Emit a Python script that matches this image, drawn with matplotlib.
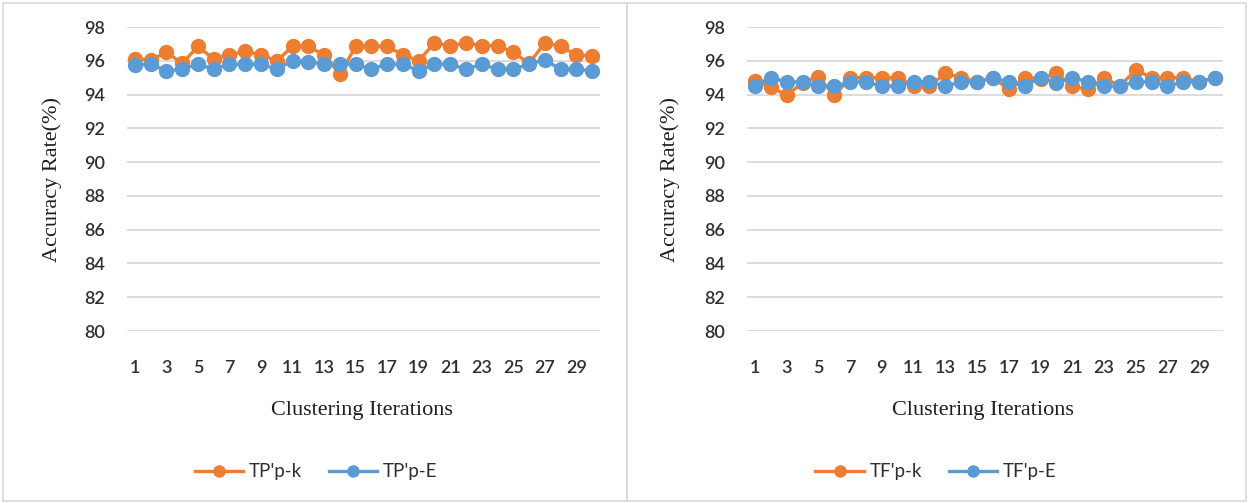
import matplotlib
matplotlib.use("Agg")
import matplotlib.pyplot as plt
from matplotlib.patches import Rectangle

# Accuracy per clustering iteration
iterations = list(range(1, 31))

tp_k = [96.1, 96.05, 96.5, 95.85, 96.85, 96.1, 96.35, 96.55, 96.35, 96.0,
        96.85, 96.85, 96.35, 95.2, 96.85, 96.85, 96.85, 96.35, 96.0, 97.05,
        96.9, 97.05, 96.9, 96.9, 96.5, 95.85, 97.05, 96.85, 96.35, 96.3]
tp_e = [95.75, 95.8, 95.4, 95.5, 95.8, 95.5, 95.8, 95.8, 95.8, 95.5,
        96.0, 95.95, 95.8, 95.8, 95.8, 95.5, 95.8, 95.8, 95.4, 95.8,
        95.8, 95.5, 95.8, 95.5, 95.5, 95.8, 96.05, 95.5, 95.5, 95.4]

tf_k = [94.8, 94.45, 93.95, 94.7, 95.05, 93.95, 95.0, 95.0, 95.0, 95.0,
        94.5, 94.5, 95.25, 95.0, 94.75, 95.0, 94.3, 95.0, 94.95, 95.25,
        94.5, 94.3, 95.0, 94.5, 95.45, 95.0, 95.0, 95.0, 94.75, 95.0]
tf_e = [94.5, 95.0, 94.75, 94.75, 94.5, 94.5, 94.75, 94.75, 94.5, 94.5,
        94.75, 94.75, 94.5, 94.75, 94.75, 95.0, 94.75, 94.5, 95.0, 94.7,
        95.0, 94.75, 94.5, 94.5, 94.75, 94.75, 94.5, 94.75, 94.75, 95.0]

y_ticks = list(range(80, 100, 2))
x_ticks = list(range(1, 30, 2))

panels = [
    {"k": tp_k, "e": tp_e, "labels": ["TP'p-k", "TP'p-E"]},
    {"k": tf_k, "e": tf_e, "labels": ["TF'p-k", "TF'p-E"]},
]

ORANGE = "#ED7D31"
BLUE = "#5B9BD5"
GRID = "#D9D9D9"
TEXT = "#2E2E2E"

W, H = 1248, 503
fig = plt.figure(figsize=(W / 100, H / 100), dpi=100)
fig.patch.set_facecolor("white")


def fx(px):
    return px / W


def fy(py):
    return 1 - py / H


# panel frames
for x0, x1 in [(3, 627), (627, 1246)]:
    fig.add_artist(Rectangle((fx(x0), fy(501)), fx(x1 - x0), 498 / H,
                             transform=fig.transFigure, fill=False,
                             edgecolor=GRID, linewidth=1.2))

axes_px = [(127, 600), (747, 1223)]
ylabel_x = [52, 670]
legend_cx = [316, 936]

tick_font = {"family": "Lato", "size": 13, "color": TEXT, "weight": "semibold"}
title_font = {"family": "Liberation Serif", "size": 16, "color": "#1F1F1F"}

for p, (x0, x1), ylx, lcx in zip(panels, axes_px, ylabel_x, legend_cx):
    ax = fig.add_axes([fx(x0), fy(331), fx(x1 - x0), (331 - 27) / H])
    ax.plot(iterations, p["k"], color=ORANGE, lw=2.4, marker="o", ms=10,
            label=p["labels"][0], zorder=3, clip_on=False)
    ax.plot(iterations, p["e"], color=BLUE, lw=2.4, marker="o", ms=10,
            label=p["labels"][1], zorder=4, clip_on=False)
    ax.set_xlim(0.5, 30.5)
    ax.set_ylim(80, 98)
    ax.set_yticks(y_ticks)
    ax.set_xticks(x_ticks)
    ax.set_yticklabels([str(v) for v in y_ticks], fontdict=tick_font)
    ax.set_xticklabels([str(v) for v in x_ticks], fontdict=tick_font)
    ax.tick_params(length=0)
    ax.tick_params(axis="x", pad=21)
    ax.tick_params(axis="y", pad=16)
    ax.grid(axis="y", color=GRID, lw=1.3)
    ax.set_axisbelow(True)
    for s in ax.spines.values():
        s.set_visible(False)

    fig.text(fx(ylx), fy(180), "Accuracy Rate(%)", rotation=90,
             ha="center", va="center", fontdict=title_font)
    fig.text(fx((x0 + x1) / 2 - 2), fy(410), "Clustering Iterations",
             ha="center", va="center", fontdict=title_font)

    leg = fig.legend(handles=ax.lines, labels=p["labels"], loc="center",
                     bbox_to_anchor=(fx(lcx), fy(472)), ncol=2, frameon=False,
                     handlelength=2.6, columnspacing=1.4, handletextpad=0.3,
                     prop={"family": "Lato", "size": 13.5})
    for t in leg.get_texts():
        t.set_color(TEXT)
    for h in leg.legend_handles:
        h.set_markersize(8)

fig.savefig("out.png", dpi=100, facecolor="white")
